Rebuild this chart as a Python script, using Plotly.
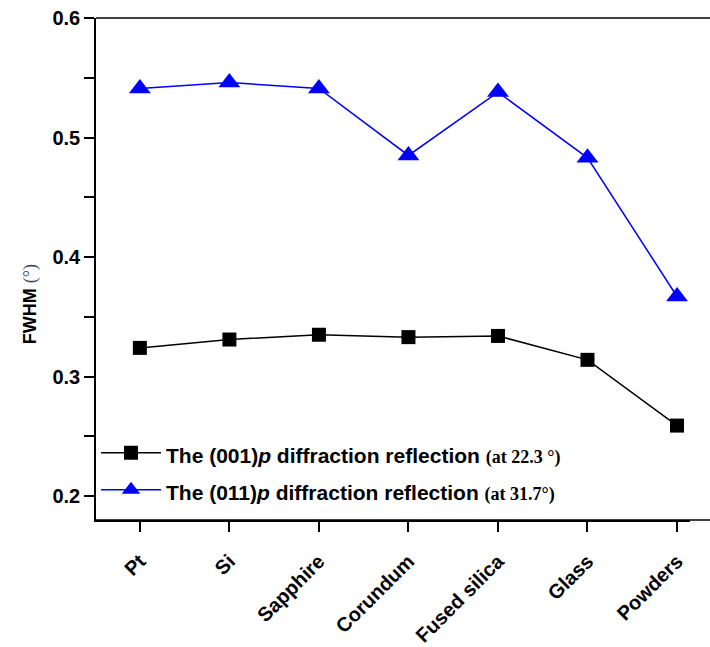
import plotly.graph_objects as go

categories = ["Pt", "Si", "Sapphire", "Corundum", "Fused silica", "Glass", "Powders"]
fwhm_001 = [0.324, 0.331, 0.335, 0.333, 0.334, 0.314, 0.259]
fwhm_011 = [0.541, 0.546, 0.541, 0.485, 0.538, 0.483, 0.367]

serif = "'Liberation Serif', 'DejaVu Serif', serif"


def legend_name(hkl, at):
    return ("<span style=\"font-size:21px\"><b>The (" + hkl + ")<i>p</i> diffraction reflection</b> </span>"
            "<span style=\"font-family:" + serif + ";font-size:18px;font-weight:bold\">(" + at + ")</span>")


name1 = legend_name("001", "at 22.3 °")
name2 = legend_name("011", "at 31.7°")

xidx = list(range(len(categories)))

fig = go.Figure()
fig.add_trace(go.Scatter(
    x=xidx, y=fwhm_001, name=name1, mode="lines+markers",
    line=dict(color="black", width=1.5),
    marker=dict(symbol="square", size=14, color="black"),
))
fig.add_trace(go.Scatter(
    x=xidx, y=fwhm_011, name=name2, mode="lines+markers",
    line=dict(color="#0000ff", width=1.5),
    marker=dict(symbol="triangle-up", size=19, color="#0000ff"),
))

# top and bottom frame lines running to the right edge of the picture
for yy in (0, 1):
    fig.add_shape(type="line", xref="paper", yref="paper", x0=0, x1=1.05, y0=yy, y1=yy,
                  line=dict(color="black", width=1.5))

fig.add_annotation(
    text="<b>FWHM</b> <span style=\"font-family:" + serif + ";color:#3a4a6a\">(°)</span>",
    xref="paper", yref="paper",
    x=-0.111, y=0.43, xanchor="center", yanchor="middle",
    textangle=-90, showarrow=False, font=dict(size=18, color="black"),
)

fig.update_layout(
    width=710, height=647,
    margin=dict(l=96, r=20, t=18, b=127),
    paper_bgcolor="white", plot_bgcolor="white",
    font=dict(family="Arial, 'Liberation Sans', sans-serif", color="black"),
    showlegend=True,
    legend=dict(
        x=0.0, y=0.013, xanchor="left", yanchor="bottom",
        bgcolor="white", borderwidth=0,
        font=dict(size=26, family="Arial, 'Liberation Sans', sans-serif", color="black"),
        itemwidth=60, tracegroupgap=0,
    ),
    xaxis=dict(
        range=[-0.49, 6.145],
        tickmode="array", tickvals=xidx,
        ticktext=["<b>" + c + "</b>" for c in categories],
        tickangle=-45, tickfont=dict(size=20), ticklabelstandoff=10,
        ticks="outside", ticklen=10, tickwidth=1.5, tickcolor="black",
        showline=True, linecolor="black", linewidth=1.5, mirror=False,
        showgrid=False, zeroline=False, automargin=False,
    ),
    yaxis=dict(
        range=[0.18, 0.6],
        tickmode="array", tickvals=[0.2, 0.3, 0.4, 0.5, 0.6],
        ticktext=["<b>0.2</b>", "<b>0.3</b>", "<b>0.4</b>", "<b>0.5</b>", "<b>0.6</b>"],
        tickfont=dict(size=20),
        ticks="outside", ticklen=10, tickwidth=1.5, tickcolor="black",
        minor=dict(tickmode="array", tickvals=[0.25, 0.35, 0.45, 0.55], ticks="outside", ticklen=10,
                   tickwidth=1.5, tickcolor="black", showgrid=False),
        showline=True, linecolor="black", linewidth=1.5,
        showgrid=False, zeroline=False, automargin=False,
    ),
)

fig.write_html("out.html")
